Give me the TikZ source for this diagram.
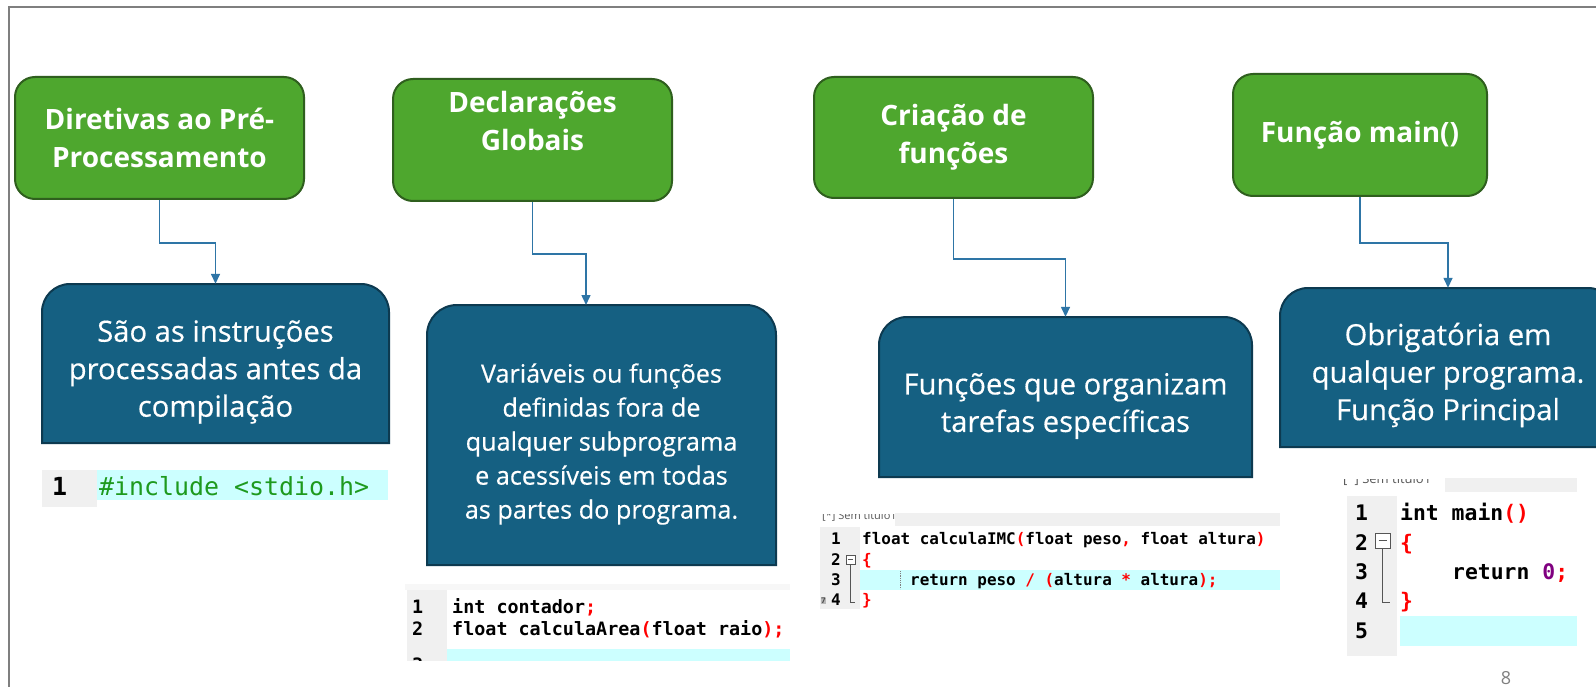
\documentclass[tikz,border=0pt]{standalone}
\usepackage{fontspec}
\setmainfont{Open Sans}
\setmonofont{DejaVu Sans Mono}
\newfontfamily\bluefont{Open Sans}[FakeBold=0.4]
\usetikzlibrary{arrows.meta}
\definecolor{gfill}{HTML}{4EA72E}
\definecolor{gdraw}{HTML}{2F5F1E}
\definecolor{bfill}{HTML}{156082}
\definecolor{bdraw}{HTML}{0D3A50}
\definecolor{conncol}{HTML}{2E75A6}
\definecolor{framecol}{HTML}{7F7F7F}
\definecolor{gutter}{HTML}{F0F0F0}
\definecolor{hl}{HTML}{CCFFFF}
\definecolor{cred}{HTML}{FF0000}
\definecolor{cgreen}{HTML}{1E9A1E}
\definecolor{cpurple}{HTML}{800080}
\definecolor{foldcol}{HTML}{555555}
\newcommand{\topround}[5]{%
  \path[bluebox] (#1,-#4) -- (#1,-#2-#5) arc[start angle=180,end angle=90,radius=#5]
    -- (#3-#5,-#2) arc[start angle=90,end angle=0,radius=#5] -- (#3,-#4) -- cycle;}
\newcommand{\R}[1]{\textcolor{cred}{#1}}
\begin{document}
\begin{tikzpicture}[x=1pt,y=1pt,
  greenbox/.style={draw=gdraw, fill=gfill, line width=2pt, rounded corners=20pt,
    text=white, font=\bfseries\fontsize{28}{38}\selectfont, align=center, inner sep=0pt},
  bluebox/.style={draw=bdraw, fill=bfill, line width=2pt},
  blueframe/.style={inner sep=0pt},
  bluetext/.style={text=white, align=center, inner sep=0pt, font=\bluefont\fontsize{29.2}{37.5}\selectfont},
  connector/.style={draw=conncol, line width=1.5pt, -{Triangle[length=10pt,width=9pt]}},
  codeA/.style={anchor=base west, inner sep=0pt, font=\ttfamily\fontsize{24.9}{30}\selectfont},
  codeB/.style={anchor=base west, inner sep=0pt, font=\ttfamily\bfseries\fontsize{18.4}{22}\selectfont},
  codeC/.style={anchor=base west, inner sep=0pt, font=\ttfamily\bfseries\fontsize{15.95}{20}\selectfont},
  codeD/.style={anchor=base west, inner sep=0pt, font=\ttfamily\bfseries\fontsize{21.4}{29}\selectfont},
  tabtext/.style={anchor=base west, inner sep=0pt, text=foldcol, font=\fontsize{11}{11}\selectfont},
  fold/.style={draw=foldcol, line width=1pt}
]
\useasboundingbox (0,0) rectangle (1596,-687);
\fill[white] (0,0) rectangle (1596,-687);

% frame
\draw[framecol, line width=2pt] (1600,-7) -- (9,-7) -- (9,-690);

% green boxes
\node[greenbox, minimum width=289pt, minimum height=122pt] (g1) at (159.5,-138) {Diretivas ao Pré-\\Processamento};
\node[greenbox, minimum width=279pt, minimum height=122pt] (g2) at (532.5,-140) {Declarações\\Globais\\\mbox{}};
\node[greenbox, minimum width=279pt, minimum height=121pt] (g3) at (953.5,-137.5) {Criação de\\funções};
\node[greenbox, minimum width=254pt, minimum height=122pt] (g4) at (1360,-135) {Função main()};

% blue boxes (shape + frame node + text node)
\topround{42}{284}{389}{443}{28}
\node[blueframe, minimum width=347pt, minimum height=159pt] (b1) at (215.5,-363.5) {};
\node[bluetext] (b1t) at (215.5,-372) {São as instruções\\processadas antes da\\compilação};
\topround{427}{305}{776}{565}{30}
\node[blueframe, minimum width=349pt, minimum height=260pt] (b2) at (601.5,-435) {};
\node[bluetext, font=\bluefont\fontsize{25.2}{34}\selectfont] (b2t) at (601.5,-444) {Variáveis ou funções\\definidas fora de\\qualquer subprograma\\e acessíveis em todas\\as partes do programa.};
\topround{879}{317}{1252}{477}{28}
\node[blueframe, minimum width=373pt, minimum height=160pt] (b3) at (1065.5,-397) {};
\node[bluetext] (b3t) at (1065.5,-406) {Funções que organizam\\tarefas específicas};
\topround{1280}{288}{1616}{447}{28}
\node[blueframe, minimum width=336pt, minimum height=159pt] (b4) at (1448,-367.5) {};
\node[bluetext] (b4t) at (1448,-375) {Obrigatória em\\qualquer programa.\\Função Principal};

% connectors
\coordinate (a2) at (586,-305);
\draw[connector] (g1.south) -- ++(0,-43) -| (b1.north);
\draw[connector] (g2.south) -- ++(0,-52) -| (a2);
\draw[connector] (g3.south) -- ++(0,-60) -| (b3.north);
\draw[connector] (g4.south) -- ++(0,-46) -| (b4.north);

% snippet 1
\fill[gutter] (42,-470) rectangle (97,-507);
\fill[hl] (97,-470) rectangle (388,-500);
\node[codeA, font=\ttfamily\bfseries\fontsize{24.9}{30}\selectfont] (n11) at (52,-495) {1};
\node[codeA, text=cgreen] (c11) at (99,-495) {\#include <stdio.h>};

% snippet 2
\begin{scope}
\clip (400,-583) rectangle (800,-660);
\fill[gray!6] (405,-584) rectangle (790,-590);
\fill[gutter] (407,-590) rectangle (447,-662);
\fill[hl] (447,-649) rectangle (790,-662);
\node[codeB] (n21) at (412,-613) {1};
\node[codeB] (n22) at (412,-635) {2};
\node[codeB] (n23) at (412,-671) {3};
\node[codeB] (c21) at (452,-613) {int contador\R{;}};
\node[codeB] (c22) at (452,-635) {float calculaArea\R{(}float raio\R{);}};
\end{scope}

% snippet 3
\fill[gutter] (895,-513) rectangle (1280,-526);
\begin{scope}
\clip (815,-514) rectangle (895,-530);
\node[tabtext] (t3) at (822,-519.5) {[*] Sem título1};
\end{scope}
\fill[gutter] (820,-527) rectangle (860,-609);
\fill[hl] (860,-570) rectangle (1280,-590);
\node[codeC] (n31) at (831,-544.5) {1};
\node[codeC] (n32) at (831,-565) {2};
\node[codeC] (n33) at (831,-585) {3};
\node[codeC] (n34) at (831,-605.5) {4};
\node[fill=gray!55, text=black!70, inner sep=0.6pt, font=\bfseries\fontsize{8}{8}\selectfont] (m34) at (823.5,-601) {7};
\node[fold, fill=white, minimum size=9pt, inner sep=0pt] (f3) at (850.5,-559.5) {};
\draw[fold] ([xshift=-2.5pt]f3.center) -- ([xshift=2.5pt]f3.center);
\coordinate (f3e) at (855,-602);
\draw[fold] (f3.south) |- (f3e);
\draw[gray, densely dotted, line width=0.8pt] (900,-571) -- (900,-589);
\node[codeC] (c31) at (862,-544.5) {float calculaIMC\R{(}float peso\R{,} float altura\R{)}};
\node[codeC] (c32) at (862,-565) {\R{\{}};
\node[codeC] (c33) at (910,-585) {return peso \R{/} \R{(}altura \R{*} altura\R{);}};
\node[codeC] (c34) at (862,-605.5) {\R{\}}};

% snippet 4
\fill[gutter] (1445,-478) rectangle (1577,-492);
\begin{scope}
\clip (1340,-479) rectangle (1444,-495);
\node[tabtext, font=\fontsize{13}{13}\selectfont] (t4) at (1343,-483) {[*] Sem título1};
\end{scope}
\fill[gutter] (1347,-496) rectangle (1397,-656);
\fill[hl] (1400,-616) rectangle (1577,-646);
\node[codeD] (n41) at (1355,-520) {1};
\node[codeD] (n42) at (1355,-550) {2};
\node[codeD] (n43) at (1355,-579) {3};
\node[codeD] (n44) at (1355,-608) {4};
\node[codeD] (n45) at (1355,-638) {5};
\node[fold, fill=white, minimum size=15pt, inner sep=0pt] (f4) at (1382.5,-540.5) {};
\draw[fold] ([xshift=-4pt]f4.center) -- ([xshift=4pt]f4.center);
\coordinate (f4e) at (1390,-602);
\draw[fold] (f4.south) |- (f4e);
\node[codeD] (c41) at (1400,-520) {int main\R{()}};
\node[codeD] (c42) at (1400,-550) {\R{\{}};
\node[codeD] (c43) at (1452,-579) {return \textcolor{cpurple}{0}\R{;}};
\node[codeD] (c44) at (1400,-608) {\R{\}}};

% page number
\node[anchor=base, inner sep=0pt, text=gray, font=\fontsize{18}{18}\selectfont] (pg) at (1506,-684) {8};
\end{tikzpicture}
\end{document}
